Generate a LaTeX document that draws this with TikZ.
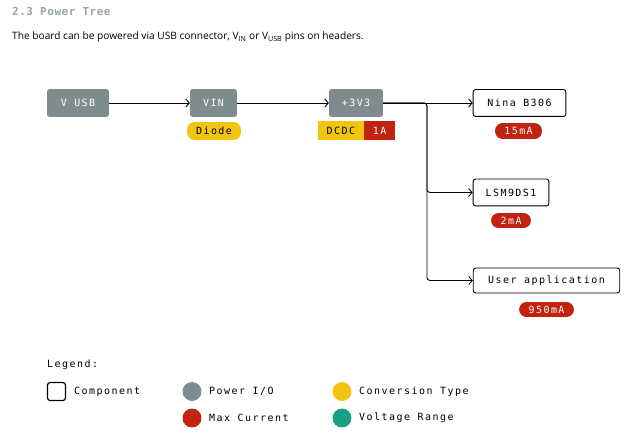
\documentclass[tikz,border=0pt]{standalone}
\usepackage{fontspec}
\setmainfont{Open Sans}
\newfontfamily\monofont[LetterSpace=15]{DejaVu Sans Mono}
\newfontfamily\titlefont[LetterSpace=5]{DejaVu Sans Mono Bold}
\usetikzlibrary{arrows.meta}
\definecolor{iogray}{HTML}{7F8C8D}
\definecolor{maxred}{HTML}{C0230F}
\definecolor{convyellow}{HTML}{F1C40F}
\definecolor{voltteal}{HTML}{16A085}
\definecolor{titlegray}{HTML}{95A5A6}
\tikzset{
  powerio/.style={fill=iogray, text=white, rounded corners=2.5, inner sep=0, font=\monofont\fontsize{10}{12}\selectfont},
  component/.style={draw=black, line width=0.9, fill=white, rounded corners=2.5, inner sep=0, font=\monofont\fontsize{10}{12}\selectfont},
  pill/.style={rounded corners=7.5, inner sep=0, font=\monofont\fontsize{10}{12}\selectfont},
  tag/.style={inner sep=0, font=\monofont\fontsize{10}{12}\selectfont},
  legendtext/.style={anchor=west, inner sep=0, font=\monofont\fontsize{10}{12}\selectfont},
  dot/.style={circle, minimum size=19, inner sep=0},
  wire/.style={line width=0.9, -{Straight Barb[length=3.5, width=8]}}
}
\begin{document}
\begin{tikzpicture}[x=1bp, y=-1bp]
		%%%%% START %%%%%
		\useasboundingbox (0, 0) rectangle (632, 434);
		
		\node[anchor=base west, inner sep=0, text=titlegray, font=\titlefont\fontsize{11}{13}\selectfont] (title) at (12, 16) {2.3 Power Tree};
		\node[anchor=base west, inner sep=0, font=\fontsize{10.2}{12}\selectfont] (intro) at (12, 40) {The board can be powered via USB connector, V\textsubscript{IN} or V\textsubscript{USB} pins on headers.};
		
		\node[powerio, minimum width=62, minimum height=28] (vusb) at (78, 103) {V USB};
		\node[powerio, minimum width=47, minimum height=28] (vin) at (213.5, 103) {VIN};
		\node[powerio, minimum width=54, minimum height=28] (v3) at (356, 103) {+3V3};
		
		\node[pill, fill=convyellow, minimum width=54, minimum height=18] (diode) at (214, 131) {Diode};
		\node[tag, fill=convyellow, minimum width=46, minimum height=19, anchor=east] (dcdc) at (364, 130.5) {DCDC};
		\node[tag, fill=maxred, text=white, minimum width=31, minimum height=19, anchor=west] (amp) at (364, 130.5) {1A};
		
		\node[component, minimum width=93, minimum height=27] (nina) at (519.5, 103) {Nina B306};
		\node[pill, fill=maxred, text=white, minimum width=47, minimum height=16] (ninacur) at (518.5, 131) {15mA};
		
		\node[component, minimum width=76, minimum height=27] (lsm) at (511, 192.5) {LSM9DS1};
		\node[pill, fill=maxred, text=white, minimum width=40, minimum height=15] (lsmcur) at (511, 220.5) {2mA};
		
		\node[component, minimum width=147, minimum height=25] (user) at (546.5, 280.5) {User application};
		\node[pill, fill=maxred, text=white, minimum width=55, minimum height=15] (usercur) at (546.5, 309.5) {950mA};
		
		\coordinate (split) at (427, 103);
		\draw[wire] (vusb) -- (vin);
		\draw[wire] (vin) -- (v3);
		\draw[wire] (v3) -- (nina);
		\draw[wire, rounded corners=3] (v3) -| (split |- lsm) -- (lsm);
		\draw[wire, rounded corners=3] (v3) -| (split |- user) -- (user);
		
		% legend
		\node[legendtext] (legend) at (47, 365) {Legend:};
		\node[draw=black, line width=1.2, rounded corners=2.5, minimum size=18, inner sep=0] (compkey) at (56.5, 391.5) {};
		\node[legendtext] (comptext) at (74, 391.5) {Component};
		\node[dot, fill=iogray] (iokey) at (192, 391.5) {};
		\node[legendtext] (iotext) at (209, 391.5) {Power I/O};
		\node[dot, fill=convyellow] (convkey) at (342, 391.5) {};
		\node[legendtext] (convtext) at (359, 391.5) {Conversion Type};
		\node[dot, fill=maxred] (curkey) at (192, 418) {};
		\node[legendtext] (curtext) at (209, 418) {Max Current};
		\node[dot, fill=voltteal] (voltkey) at (342, 418) {};
		\node[legendtext] (volttext) at (359, 418) {Voltage Range};
		
		%%%%% END %%%%%
	\end{tikzpicture}
\end{document}
